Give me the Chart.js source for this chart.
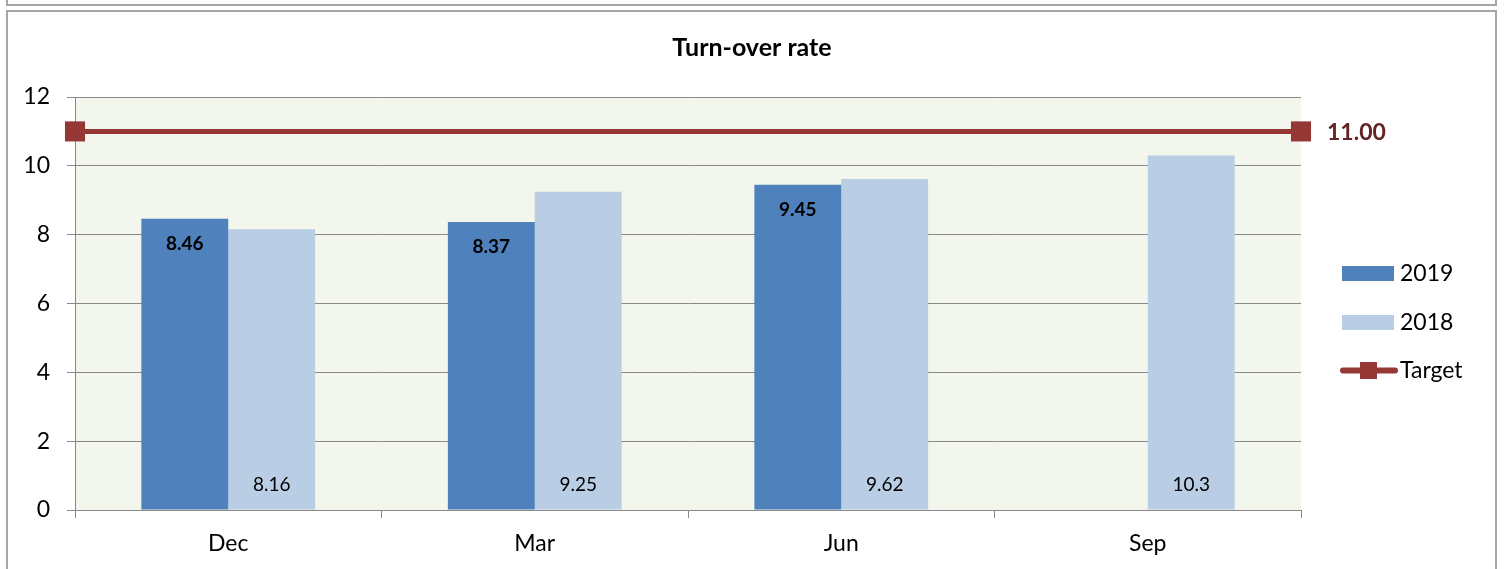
<!DOCTYPE html>
<html>
<head>
<meta charset="utf-8">
<script src="https://cdn.jsdelivr.net/npm/chart.js@4/dist/chart.umd.min.js"></script>
<style>
  html, body { margin: 0; padding: 0; background: #fff; }
  body { width: 1504px; height: 569px; position: relative; overflow: hidden; }
  .frame { position: absolute; border: 2px solid #a6a6a6; box-sizing: border-box; }
  #wrap { position: absolute; left: 0; top: 0; width: 1504px; height: 569px; }
</style>
</head>
<body>
<div class="frame" style="left:6px; top:-20px; width:1491px; height:26px;"></div>
<div class="frame" style="left:6px; top:10px; width:1491px; height:600px;"></div>
<div id="wrap"><canvas id="turnover-chart" width="1504" height="569"></canvas></div>
<script>
const categories = ['Dec', 'Mar', 'Jun', 'Sep']
const values2019 = [8.46, 8.37, 9.45, null]
const values2018 = [8.16, 9.25, 9.62, 10.3]
const targetValue = 11
// target runs from the left edge to the right edge of the category axis
const targetSpan = [-0.5, 3.5]
const yTicks = [0, 2, 4, 6, 8, 10, 12]

const FONT = 'Lato, "Open Sans", sans-serif'
const GRID = '#888888'
const C2019 = '#4f81bd'
const C2018 = '#b9cde5'
const CTARGET = '#953735'

// plot background, title, value labels, legend
const decor = {
  id: 'decor',
  beforeDraw(chart) {
    const { ctx, chartArea: a } = chart
    ctx.save()
    ctx.fillStyle = '#f3f6ed'
    ctx.fillRect(a.left, a.top, a.right - a.left, a.bottom - a.top)
    ctx.fillStyle = '#000'
    ctx.font = 'bold 25px ' + FONT
    ctx.textAlign = 'center'
    ctx.textBaseline = 'middle'
    ctx.fillText('Turn-over rate', chart.width / 2, 48)
    ctx.restore()
  },
  afterDatasetsDraw(chart) {
    const { ctx, chartArea: a } = chart
    ctx.save()
    ctx.textAlign = 'center'
    ctx.textBaseline = 'middle'
    ctx.fillStyle = '#000'

    ctx.font = 'bold 19px ' + FONT
    chart.getDatasetMeta(0).data.forEach((bar, i) => {
      if (values2019[i] == null) return
      ctx.fillText(values2019[i].toFixed(2), bar.x, bar.y + 25)
    })

    ctx.font = '19px ' + FONT
    chart.getDatasetMeta(1).data.forEach((bar, i) => {
      if (values2018[i] == null) return
      ctx.fillText(String(values2018[i]), bar.x, a.bottom - 25)
    })

    const pts = chart.getDatasetMeta(2).data
    const last = pts[pts.length - 1]
    ctx.textAlign = 'left'
    ctx.fillStyle = '#632523'
    ctx.font = 'bold 23px ' + FONT
    ctx.fillText(targetValue.toFixed(2), last.x + 26, last.y + 1)
    ctx.restore()
  },
  afterDraw(chart) {
    const { ctx } = chart
    ctx.save()
    ctx.font = '23px ' + FONT
    ctx.textBaseline = 'middle'
    ctx.textAlign = 'left'

    ctx.fillStyle = C2019
    ctx.fillRect(1342, 266, 52, 15)
    ctx.fillStyle = C2018
    ctx.fillRect(1342, 315, 52, 15)

    ctx.strokeStyle = CTARGET
    ctx.lineWidth = 6
    ctx.lineCap = 'round'
    ctx.beginPath()
    ctx.moveTo(1343, 370.5)
    ctx.lineTo(1395, 370.5)
    ctx.stroke()
    ctx.fillStyle = CTARGET
    ctx.fillRect(1360, 362, 17, 17)

    ctx.fillStyle = '#000'
    ctx.fillText('2019', 1400, 274)
    ctx.fillText('2018', 1400, 323)
    ctx.fillText('Target', 1400, 371)
    ctx.restore()
  },
}

new Chart(document.getElementById('turnover-chart'), {
  type: 'bar',
  data: {
    labels: categories,
    datasets: [
      {
        type: 'bar',
        label: '2019',
        data: values2019,
        backgroundColor: C2019,
        categoryPercentage: 0.567,
        barPercentage: 1,
      },
      {
        type: 'bar',
        label: '2018',
        data: values2018,
        backgroundColor: C2018,
        categoryPercentage: 0.567,
        barPercentage: 1,
      },
      {
        type: 'line',
        label: 'Target',
        parsing: false,
        data: targetSpan.map((x) => ({ x, y: targetValue })),
        borderColor: CTARGET,
        backgroundColor: CTARGET,
        borderWidth: 5,
        pointStyle: 'rect',
        pointRadius: 14.2,
        pointBorderWidth: 0,
        clip: false,
      },
    ],
  },
  options: {
    responsive: false,
    animation: false,
    layout: { padding: { left: 0, right: 203, top: 97, bottom: 0 } },
    scales: {
      x: {
        type: 'category',
        offset: true,
        grid: {
          offset: true,
          drawOnChartArea: false,
          color: GRID,
          tickLength: 8,
        },
        border: { color: GRID, width: 1 },
        ticks: { color: '#000', font: { family: FONT, size: 23 }, padding: 12 },
        afterFit: (s) => { s.height = 59 },
      },
      y: {
        min: 0,
        max: 12,
        afterBuildTicks: (s) => { s.ticks = yTicks.map((v) => ({ value: v })) },
        grid: { color: GRID, tickLength: 8 },
        border: { color: GRID, width: 1 },
        ticks: { color: '#000', font: { family: FONT, size: 23 }, padding: 17 },
        afterFit: (s) => { s.width = 75 },
      },
    },
    plugins: {
      legend: { display: false },
      tooltip: { enabled: false },
      title: { display: false },
    },
  },
  plugins: [decor],
})
</script>
</body>
</html>
